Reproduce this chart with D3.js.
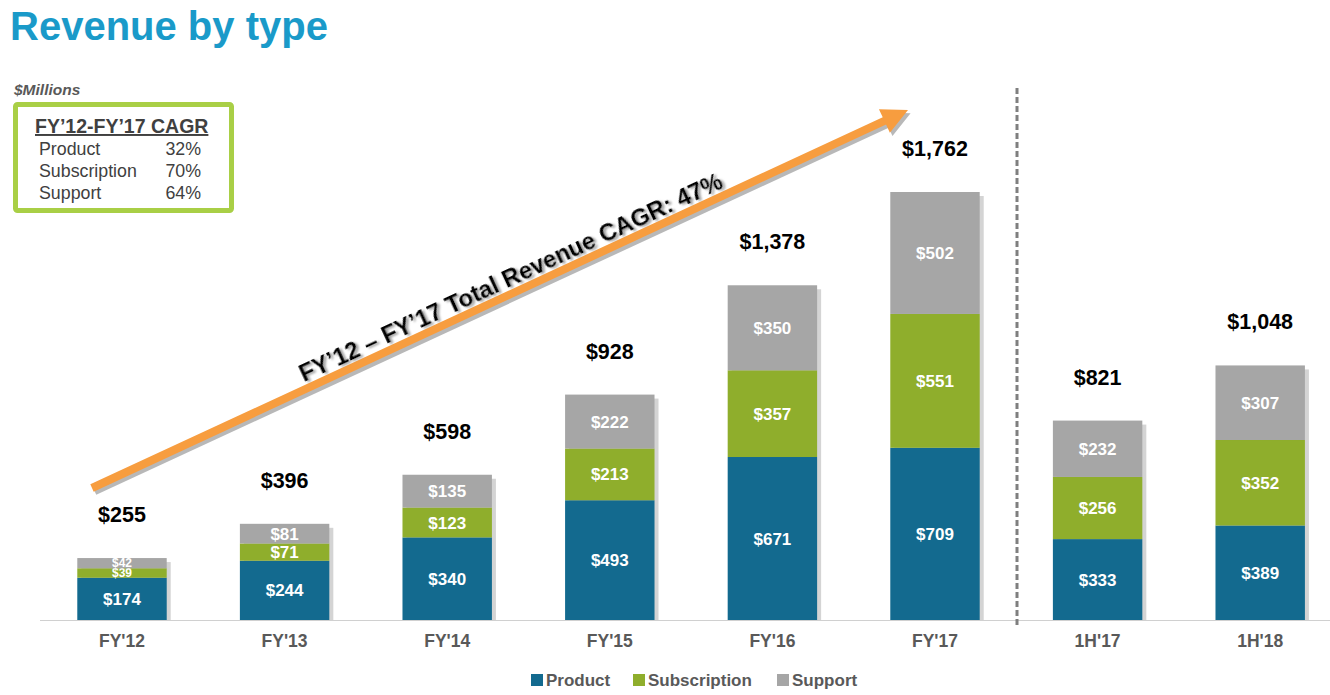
<!DOCTYPE html>
<html><head><meta charset="utf-8">
<script src="https://cdn.jsdelivr.net/npm/d3@7"></script>
<style>
body{margin:0;background:#fff;}
svg{display:block;font-family:"Liberation Sans",Arial,sans-serif;}
</style></head>
<body>
<svg id="chart" width="1330" height="695"></svg>
<script>
const categories = ["FY'12","FY'13","FY'14","FY'15","FY'16","FY'17","1H'17","1H'18"];
const product = [174,244,340,493,671,709,333,389];
const subscription = [39,71,123,213,357,551,256,352];
const support = [42,81,135,222,350,502,232,307];
const totals = [255,396,598,928,1378,1762,821,1048];
const seriesNames = ["Product","Subscription","Support"];
const cagrLabels = ["Product","Subscription","Support"];
const cagrValues = ["32%","70%","64%"];

const colors = {Product:"#136a8f", Subscription:"#8fae2c", Support:"#a6a6a6"};
const svg = d3.select("#chart");
const defs = svg.append("defs");
const f = defs.append("filter").attr("id","tshadow").attr("x","-10%").attr("y","-50%").attr("width","120%").attr("height","200%");
f.append("feDropShadow").attr("dx",2).attr("dy",2).attr("stdDeviation",0.8).attr("flood-color","#888").attr("flood-opacity",0.8);

const baseY = 620;
const x = d3.scaleBand().domain(categories).range([40.7,1341.5]).paddingInner(0.45).paddingOuter(0.225);
const y = d3.scaleLinear().domain([0,1762]).range([baseY,192]);

// title
svg.append("text").attr("x",10).attr("y",40).attr("font-size",40).attr("font-weight","bold").attr("fill","#1a9ac9").text("Revenue by type");
svg.append("text").attr("x",14).attr("y",95).attr("font-size",15.5).attr("font-weight","bold").attr("font-style","italic").attr("fill","#595959").text("$Millions");

// baseline
svg.append("line").attr("x1",40).attr("x2",1330).attr("y1",baseY+0.5).attr("y2",baseY+0.5).attr("stroke","#d0d0d0").attr("stroke-width",1);

// stacked data
const rows = categories.map((c,i)=>({cat:c, Product:product[i], Subscription:subscription[i], Support:support[i], total:totals[i]}));
const stack = d3.stack().keys(seriesNames)(rows);

// shadows
svg.append("g").selectAll("rect").data(rows).join("rect")
  .attr("x",d=>x(d.cat)+4).attr("y",d=>y(d.Product+d.Subscription+d.Support)+4)
  .attr("width",x.bandwidth()).attr("height",d=>baseY-y(d.Product+d.Subscription+d.Support)-4)
  .attr("fill","#d4d4d4");

const g = svg.append("g");
stack.forEach(s=>{
  g.append("g").selectAll("rect").data(s).join("rect")
    .attr("x",d=>x(d.data.cat)).attr("y",d=>y(d[1]))
    .attr("width",x.bandwidth()).attr("height",d=>y(d[0])-y(d[1]))
    .attr("fill",colors[s.key]);
  g.append("g").selectAll("text").data(s).join("text")
    .attr("x",d=>x(d.data.cat)+x.bandwidth()/2)
    .attr("y",d=>(y(d[0])+y(d[1]))/2)
    .attr("dy","0.36em")
    .attr("text-anchor","middle").attr("font-weight","bold")
    .attr("font-size",d=>(y(d[0])-y(d[1]))<15?12:17)
    .attr("fill","#fff")
    .text(d=>"$"+d3.format(",")(d[1]-d[0]));
});

// totals
svg.append("g").selectAll("text").data(rows).join("text")
  .attr("x",d=>x(d.cat)+x.bandwidth()/2).attr("y",d=>y(d.total)-36)
  .attr("text-anchor","middle").attr("font-weight","bold").attr("font-size",21.5).attr("fill","#000")
  .text(d=>"$"+d3.format(",")(d.total));

// x axis labels
const xAxis = d3.axisBottom(x).tickSize(0).tickPadding(0);
const ax = svg.append("g").attr("transform",`translate(0,${baseY})`).call(xAxis);
ax.select(".domain").remove();
ax.selectAll("text").attr("y",27).attr("dy",0).attr("font-family","Liberation Sans,Arial,sans-serif")
  .attr("font-size",17.5).attr("font-weight","bold").attr("fill","#595959");

// dashed separator
svg.append("line").attr("x1",1017).attr("x2",1017).attr("y1",88).attr("y2",626)
  .attr("stroke","#7f7f7f").attr("stroke-width",3).attr("stroke-dasharray","6,3");

// arrow
const a0=[92,488], a1=[908,110];
const ang = Math.atan2(a1[1]-a0[1], a1[0]-a0[0]);
const len = Math.hypot(a1[0]-a0[0], a1[1]-a0[1]);
const arrowG = svg.append("g").attr("transform",`translate(${a0[0]},${a0[1]}) rotate(${ang*180/Math.PI})`);
const arrowPath = `M0,-4 L${len-26},-4 L${len-26},-13 L${len},0 L${len-26},13 L${len-26},4 L0,4 Z`;
arrowG.append("path").attr("d",arrowPath).attr("fill","#9a9a9a").attr("transform","translate(1,4)").attr("opacity",0.7);
arrowG.append("path").attr("d",arrowPath).attr("fill","#f79d3f");
arrowG.append("text").attr("x",len*0.521).attr("y",-7).attr("text-anchor","middle")
  .attr("font-size",24).attr("font-weight","bold").attr("fill","#000").attr("filter","url(#tshadow)")
  .text("FY\u201912 \u2013 FY\u201917 Total Revenue CAGR: 47%");

// CAGR box
svg.append("rect").attr("x",15.5).attr("y",104.5).attr("width",216).attr("height",106).attr("fill","#fff")
  .attr("stroke","#a9cf46").attr("stroke-width",5).attr("rx",2);
svg.append("text").attr("x",35).attr("y",133).attr("font-size",19.5).attr("font-weight","bold").attr("fill","#404040")
  .attr("text-decoration","underline").text("FY\u201912-FY\u201917 CAGR");
cagrLabels.forEach((l,i)=>{
  svg.append("text").attr("x",39).attr("y",155+i*22).attr("font-size",17.8).attr("fill","#404040").text(l);
  svg.append("text").attr("x",201).attr("y",155+i*22).attr("font-size",17.8).attr("fill","#404040").attr("text-anchor","end").text(cagrValues[i]);
});

// legend
const legX = [531,633,777];
seriesNames.forEach((s,i)=>{
  svg.append("rect").attr("x",legX[i]).attr("y",674).attr("width",12).attr("height",12).attr("fill",colors[s]);
  svg.append("text").attr("x",legX[i]+15).attr("y",686).attr("font-size",17).attr("font-weight","bold").attr("fill","#595959").text(s);
});
</script>
</body></html>
